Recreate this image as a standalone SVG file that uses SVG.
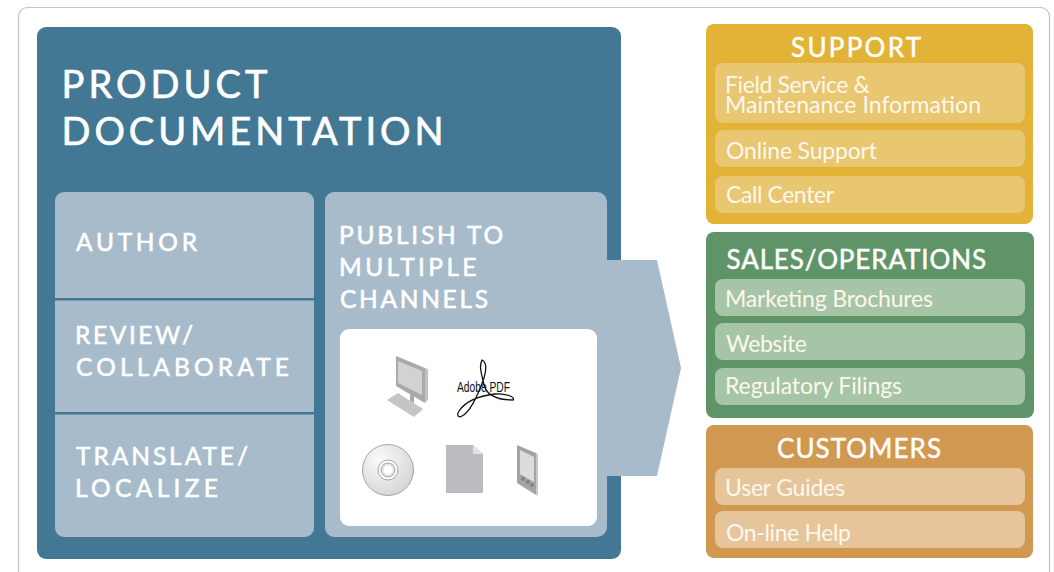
<svg xmlns="http://www.w3.org/2000/svg" width="1054" height="572" viewBox="0 0 1054 572">
<defs><radialGradient id="cdg" cx="35%" cy="30%" r="80%"><stop offset="0" stop-color="#fafafa"/><stop offset="1" stop-color="#d2d3d4"/></radialGradient></defs>
<style>
text{font-family:Lato,"Noto Sans","Liberation Sans",sans-serif;fill:#fff}
.h{font-size:38px;stroke:#fff;stroke-width:.7px}
.s{font-size:24.5px;stroke:#fff;stroke-width:.6px}
.c{font-size:26px;stroke:#fff;stroke-width:.5px}
.i{font-size:23px;fill:#fdf8ee}
.lb{fill:#a7bbcb}
.y{fill:#e9c670}.g{fill:#a6c4a6}.o{fill:#e7c59b}
</style>
<rect x="18.5" y="7.5" width="1031" height="600" rx="9" fill="#fff" stroke="#c4c4c4" stroke-width="1.2"/>
<g id="product-documentation">
<rect x="37" y="27" width="584" height="532" rx="9" fill="#437894"/>
<text class="h" x="61.5" y="98" textLength="206">PRODUCT</text>
<text class="h" x="61.5" y="145" textLength="382">DOCUMENTATION</text>
</g>
<g id="author"><path class="lb" d="M64 192H305a9 9 0 0 1 9 9V298H55V201a9 9 0 0 1 9-9Z"/><text class="s" x="76" y="251" textLength="121">AUTHOR</text></g>
<g id="review"><rect class="lb" x="55" y="300.5" width="259" height="111.5"/><text class="s" x="75" y="344" textLength="118">REVIEW/</text><text class="s" x="76" y="376" textLength="213">COLLABORATE</text></g>
<g id="translate"><path class="lb" d="M55 414.5H314V528a9 9 0 0 1-9 9H64a9 9 0 0 1-9-9Z"/><text class="s" x="76" y="465" textLength="172">TRANSLATE/</text><text class="s" x="75" y="497" textLength="143">LOCALIZE</text></g>
<g id="connectors"><path class="lb" d="M334 192H597a10 10 0 0 1 10 10V260H657L681 368L657 476H607V527a10 10 0 0 1-10 10H334a9 9 0 0 1-9-9V201a9 9 0 0 1 9-9Z"/></g>
<g id="publish">
<text class="s" x="339" y="244" textLength="164">PUBLISH TO</text><text class="s" x="339" y="275.5" textLength="137.5">MULTIPLE</text><text class="s" x="340" y="307.5" textLength="148">CHANNELS</text>
<rect x="340" y="329" width="257" height="197" rx="9" fill="#fff"/>
<g id="monitor"><path d="M396 356L425 368V403L396 386Z" fill="#a8a9ab"/><path d="M425 368L428 369V400L425 403Z" fill="#c0c1c3"/><path d="M398 361L422 371V395L398 383Z" fill="#d1d2d4"/><path d="M410 391L414 393V403L410 401Z" fill="#a8a9ab"/><path d="M398 393L423 409L414 417L387 400Z" fill="#c4c5c7"/></g>
<g id="pdf"><path d="M482 360C479 366 481 372 484 385C487 396 497 400 513 400C516 397 505 393 495 394C478 396 465 402 459 411C456 416 459 418 462 416C470 412 478 395 484 378C487 368 486 362 482 360Z" fill="none" stroke="#111" stroke-width="1.3"/><text x="457" y="392" style="font-family:'Liberation Sans',sans-serif;font-size:15px;fill:#111" textLength="53" lengthAdjust="spacingAndGlyphs">Adobe PDF</text></g>
<g id="cd"><circle cx="388" cy="470" r="25.5" fill="url(#cdg)" stroke="#8f9092" stroke-width=".8"/><circle cx="388" cy="470" r="10" fill="#fff" stroke="#8f9092" stroke-width=".8"/><circle cx="388" cy="470" r="7" fill="#e4e4e5" stroke="#8f9092" stroke-width=".8"/><circle cx="388" cy="470" r="4.5" fill="#fff"/></g>
<g id="doc"><path d="M446 445H473L483 454V493H446Z" fill="#bbbcbf"/><path d="M473 445L483 454H473Z" fill="#e3e3e4"/></g>
<g id="tablet"><path d="M517 445L536 453V495L517 483Z" fill="#a3a4a6"/><path d="M536 453L538 454V496L536 495Z" fill="#c8c9cb"/><path d="M520 450L534 457V482L520 474Z" fill="#dcdcde"/><circle cx="523" cy="479" r="2" fill="#808184"/><circle cx="528" cy="482" r="2" fill="#808184"/><circle cx="532" cy="485" r="2" fill="#808184"/></g>
</g>
<g id="support"><rect x="706" y="24" width="327" height="200" rx="8" fill="#e2b336"/>
<text class="c" x="791" y="57" textLength="130">SUPPORT</text>
<rect class="y" x="715" y="63" width="310" height="60" rx="8"/><text class="i" x="725" y="93" textLength="145">Field Service &amp;</text><text class="i" x="725" y="113" textLength="256">Maintenance Information</text>
<rect class="y" x="715" y="130" width="310" height="37" rx="8"/><text class="i" x="726" y="159" textLength="151">Online Support</text>
<rect class="y" x="715" y="176" width="310" height="37" rx="8"/><text class="i" x="726" y="203" textLength="108">Call Center</text></g>
<g id="sales"><rect x="706" y="232" width="328" height="186" rx="8" fill="#5f9468"/>
<text class="c" x="726.5" y="269" textLength="259.5">SALES/OPERATIONS</text>
<rect class="g" x="715" y="279" width="310" height="37" rx="8"/><text class="i" x="725" y="307" textLength="208">Marketing Brochures</text>
<rect class="g" x="715" y="323" width="310" height="37" rx="8"/><text class="i" x="726" y="352" textLength="81">Website</text>
<rect class="g" x="715" y="368" width="310" height="37" rx="8"/><text class="i" x="725" y="394" textLength="177">Regulatory Filings</text></g>
<g id="customers"><rect x="706" y="425" width="327" height="133" rx="8" fill="#d09851"/>
<text class="c" x="777" y="458" textLength="164">CUSTOMERS</text>
<rect class="o" x="715" y="468" width="310" height="37" rx="8"/><text class="i" x="725" y="496" textLength="120">User Guides</text>
<rect class="o" x="715" y="511" width="310" height="37" rx="8"/><text class="i" x="726" y="541" textLength="125">On-line Help</text></g>
</svg>
